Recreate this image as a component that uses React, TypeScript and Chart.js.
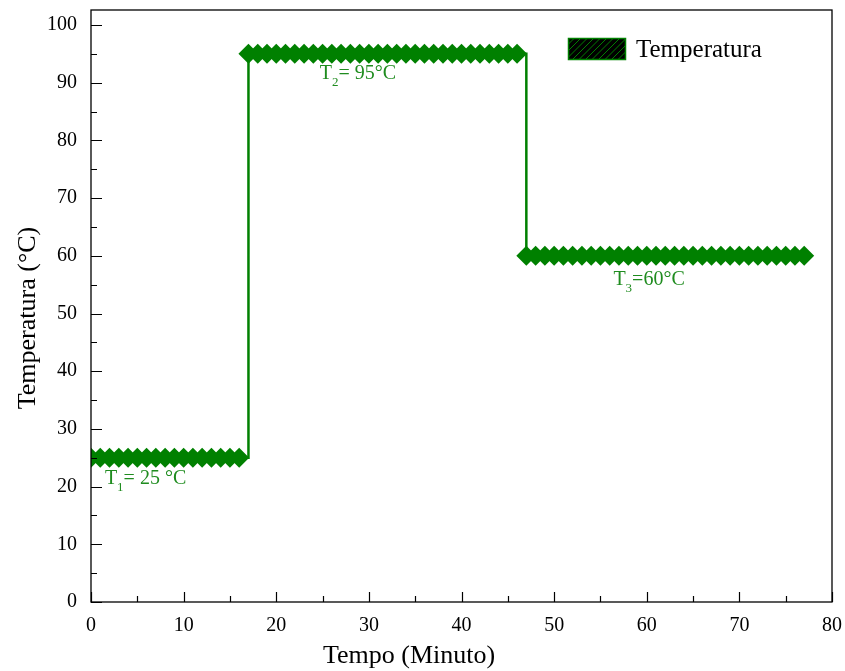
import React, { useEffect, useRef } from "react";
import { Chart, registerables } from "chart.js";

Chart.register(...registerables);

// ---- data ----
const tempo = [
  0, 1, 2, 3, 4, 5, 6, 7, 8, 9, 10, 11, 12, 13, 14, 15, 16,
  17, 18, 19, 20, 21, 22, 23, 24, 25, 26, 27, 28, 29, 30, 31, 32, 33, 34, 35, 36, 37, 38, 39, 40, 41, 42, 43, 44, 45, 46,
  47, 48, 49, 50, 51, 52, 53, 54, 55, 56, 57, 58, 59, 60, 61, 62, 63, 64, 65, 66, 67, 68, 69, 70, 71, 72, 73, 74, 75, 76, 77,
];
const temperatura = [
  25, 25, 25, 25, 25, 25, 25, 25, 25, 25, 25, 25, 25, 25, 25, 25, 25,
  95, 95, 95, 95, 95, 95, 95, 95, 95, 95, 95, 95, 95, 95, 95, 95, 95, 95, 95, 95, 95, 95, 95, 95, 95, 95, 95, 95, 95, 95,
  60, 60, 60, 60, 60, 60, 60, 60, 60, 60, 60, 60, 60, 60, 60, 60, 60, 60, 60, 60, 60, 60, 60, 60, 60, 60, 60, 60, 60, 60, 60,
];
const xMajorTicks = [0, 10, 20, 30, 40, 50, 60, 70, 80];
const xMinorTicks = [5, 15, 25, 35, 45, 55, 65, 75];
const yMajorTicks = [0, 10, 20, 30, 40, 50, 60, 70, 80, 90, 100];
const yMinorTicks = [5, 15, 25, 35, 45, 55, 65, 75, 85, 95];
const seriesLabel = "Temperatura";
const xTitle = "Tempo (Minuto)";
const yTitle = "Temperatura (°C)";
const annotationX = [1.5, 24.7, 56.4];
const annotationY = [20.5, 90.7, 54.9];
const annotationMain = ["T", "T", "T"];
const annotationSub = ["1", "2", "3"];
const annotationRest = ["= 25 °C", "= 95°C", "=60°C"];

const GREEN = "#008000";
const TEXT_GREEN = "#1f8c1f";
const FONT = "'Liberation Serif', 'Times New Roman', serif";

const framePlugin = {
  id: "frameTicks",
  afterDraw(chart: any) {
    const { ctx, chartArea: a, scales } = chart;
    const xs = scales.x;
    const ys = scales.y;
    ctx.save();
    ctx.strokeStyle = "#000";
    ctx.lineWidth = 1.3;
    ctx.strokeRect(a.left, a.top, a.right - a.left, a.bottom - a.top);
    ctx.lineWidth = 1.2;
    ctx.beginPath();
    xMajorTicks.forEach((v) => {
      const px = Math.round(xs.getPixelForValue(v)) + 0.5;
      ctx.moveTo(px, a.bottom);
      ctx.lineTo(px, a.bottom - 10);
    });
    xMinorTicks.forEach((v) => {
      const px = Math.round(xs.getPixelForValue(v)) + 0.5;
      ctx.moveTo(px, a.bottom);
      ctx.lineTo(px, a.bottom - 6);
    });
    yMajorTicks.forEach((v) => {
      const py = Math.round(ys.getPixelForValue(v)) + 0.5;
      ctx.moveTo(a.left, py);
      ctx.lineTo(a.left + 11, py);
    });
    yMinorTicks.forEach((v) => {
      const py = Math.round(ys.getPixelForValue(v)) + 0.5;
      ctx.moveTo(a.left, py);
      ctx.lineTo(a.left + 6, py);
    });
    ctx.stroke();

    // axis titles
    ctx.fillStyle = "#000";
    ctx.font = `26px ${FONT}`;
    ctx.textAlign = "center";
    ctx.textBaseline = "middle";
    ctx.fillText(xTitle, 409, 656);
    ctx.save();
    ctx.translate(28, 318);
    ctx.rotate(-Math.PI / 2);
    ctx.fillText(yTitle, 0, 0);
    ctx.restore();

    // annotations
    ctx.fillStyle = TEXT_GREEN;
    ctx.textAlign = "left";
    ctx.textBaseline = "alphabetic";
    annotationX.forEach((vx, i) => {
      let px = xs.getPixelForValue(vx);
      const py = ys.getPixelForValue(annotationY[i]);
      ctx.font = `20px ${FONT}`;
      ctx.fillText(annotationMain[i], px, py);
      px += ctx.measureText(annotationMain[i]).width;
      ctx.font = `13px ${FONT}`;
      ctx.fillText(annotationSub[i], px, py + 7);
      px += ctx.measureText(annotationSub[i]).width;
      ctx.font = `20px ${FONT}`;
      ctx.fillText(annotationRest[i], px, py);
    });

    // legend
    const bx = 568, by = 38, bw = 58, bh = 22;
    ctx.fillStyle = "#000";
    ctx.fillRect(bx, by, bw, bh);
    ctx.save();
    ctx.beginPath();
    ctx.rect(bx, by, bw, bh);
    ctx.clip();
    ctx.strokeStyle = GREEN;
    ctx.lineWidth = 1;
    ctx.beginPath();
    for (let s = -bh; s < bw + bh; s += 6.5) {
      ctx.moveTo(bx + s, by + bh);
      ctx.lineTo(bx + s + bh, by);
    }
    ctx.stroke();
    ctx.restore();
    ctx.strokeStyle = GREEN;
    ctx.lineWidth = 1.5;
    ctx.strokeRect(bx + 0.5, by + 0.5, bw - 1, bh - 1);
    ctx.fillStyle = "#000";
    ctx.font = `25px ${FONT}`;
    ctx.textBaseline = "middle";
    ctx.fillText(seriesLabel, 636, by + bh / 2 + 1);
    ctx.restore();
  },
};

export default function App() {
  const ref = useRef<HTMLCanvasElement | null>(null);
  useEffect(() => {
    if (!ref.current) return;
    const chart = new Chart(ref.current, {
      type: "scatter",
      data: {
        datasets: [
          {
            label: seriesLabel,
            data: tempo.map((t, i) => ({ x: t, y: temperatura[i] })),
            showLine: true,
            stepped: true,
            borderColor: GREEN,
            borderWidth: 2.5,
            pointStyle: "rectRot",
            pointRadius: 10,
            pointBackgroundColor: GREEN,
            pointBorderColor: GREEN,
            pointBorderWidth: 0,
            clip: 0,
          } as any,
        ],
      },
      options: {
        responsive: false,
        animation: false,
        devicePixelRatio: 1,
        layout: { padding: { top: 8, right: 13, left: 0, bottom: 0 } },
        plugins: { legend: { display: false }, tooltip: { enabled: false } },
        scales: {
          x: {
            type: "linear",
            min: 0,
            max: 80,
            afterFit: (s: any) => {
              s.height = 69;
              s.paddingLeft = 0;
              s.paddingRight = 0;
            },
            grid: { display: false, drawTicks: false },
            border: { display: false },
            ticks: {
              stepSize: 10,
              padding: 12,
              color: "#000",
              font: { family: FONT, size: 20 },
            },
            title: { display: false, text: xTitle },
          },
          y: {
            type: "linear",
            min: 0,
            max: 102.6,
            afterFit: (s: any) => {
              s.width = 91;
              s.paddingTop = 0;
              s.paddingBottom = 0;
            },
            afterBuildTicks: (s: any) => {
              s.ticks = yMajorTicks.map((v) => ({ value: v }));
            },
            grid: { display: false, drawTicks: false },
            border: { display: false },
            ticks: {
              stepSize: 10,
              padding: 14,
              color: "#000",
              font: { family: FONT, size: 20 },
            },
            title: { display: false, text: yTitle },
          },
        },
      },
      plugins: [framePlugin],
    });
    return () => chart.destroy();
  }, []);
  return (
    <div style={{ position: "absolute", left: 0, top: 0, width: 845, height: 671, background: "#fff" }}>
      <canvas ref={ref} width={845} height={671} style={{ display: "block" }} />
    </div>
  );
}
